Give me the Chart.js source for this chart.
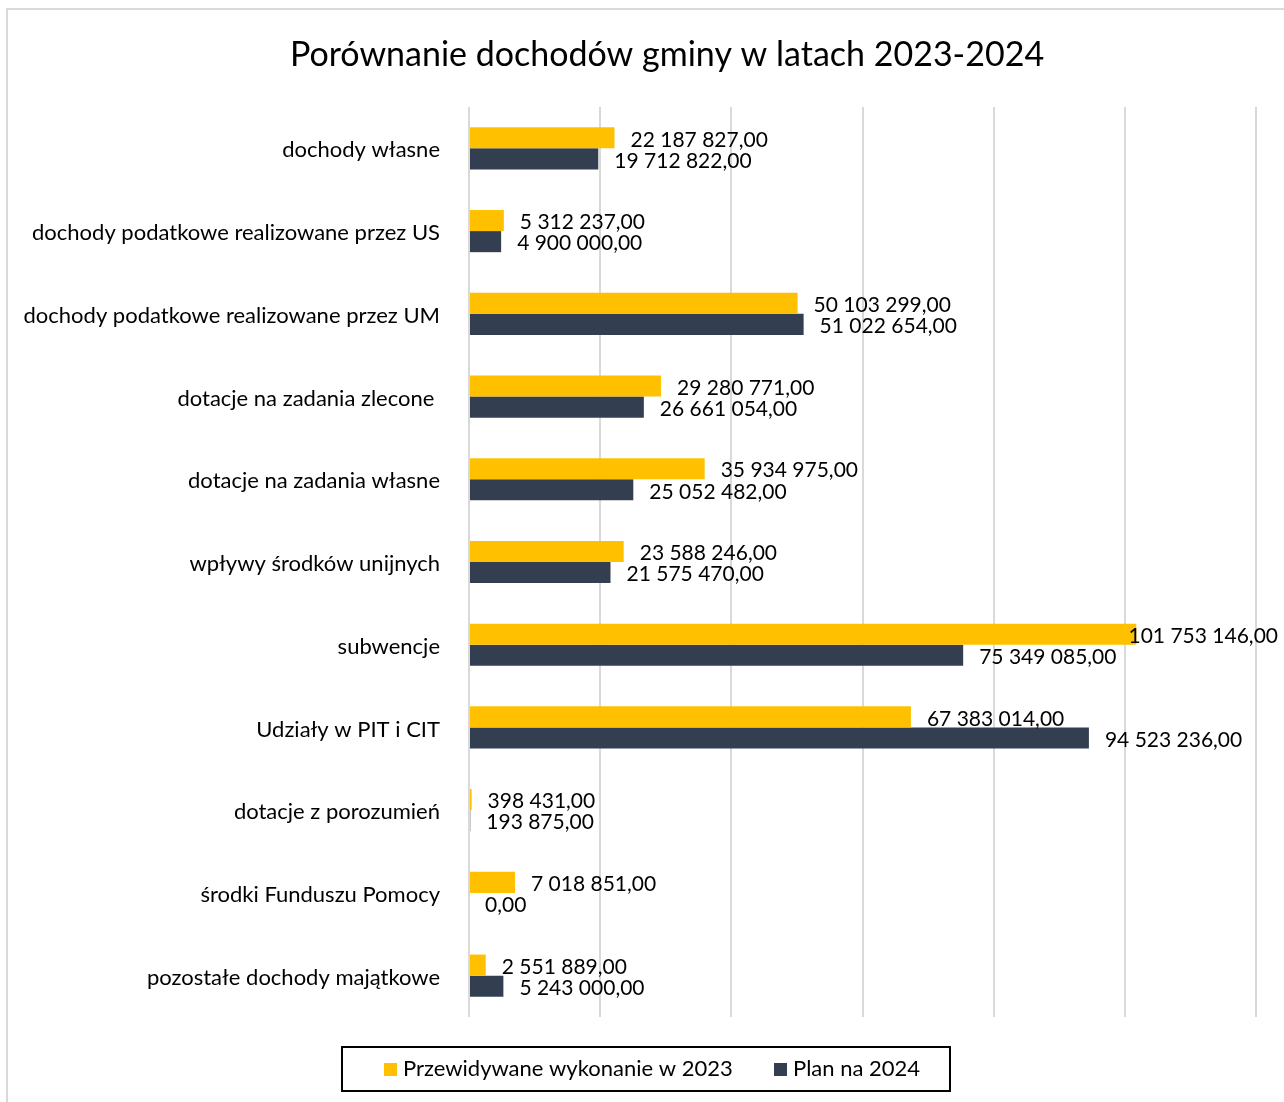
<!DOCTYPE html>
<html>
<head>
<meta charset="utf-8">
<script src="https://cdn.jsdelivr.net/npm/chart.js@4.4.1/dist/chart.umd.min.js"></script>
<style>
  html, body { margin: 0; padding: 0; background: #fff; overflow: hidden; }
  canvas { display: block; }
</style>
</head>
<body>
<canvas id="incomeChart" width="1284" height="1102"></canvas>
<script>
const categories = [
    "dochody własne",
    "dochody podatkowe realizowane przez US",
    "dochody podatkowe realizowane przez UM",
    "dotacje na zadania zlecone ",
    "dotacje na zadania własne",
    "wpływy środków unijnych",
    "subwencje",
    "Udziały w PIT i CIT",
    "dotacje z porozumień",
    "środki Funduszu Pomocy",
    "pozostałe dochody majątkowe"
];
const forecast2023 = [22187827, 5312237, 50103299, 29280771, 35934975, 23588246, 101753146, 67383014, 398431, 7018851, 2551889];
const plan2024 = [19712822, 4900000, 51022654, 26661054, 25052482, 21575470, 75349085, 94523236, 193875, 0, 5243000];
const seriesNames = ["Przewidywane wykonanie w 2023", "Plan na 2024"];
const xTicks = [0, 20000000, 40000000, 60000000, 80000000, 100000000, 120000000];

const FONT = "Lato, 'Open Sans', sans-serif";

function fmt(v) {
    const parts = v.toFixed(2).split(".");
    return parts[0].replace(/\B(?=(\d{3})+(?!\d))/g, " ") + "," + parts[1];
}

// frame around the chart (cut off at right / bottom like the source)
const framePlugin = {
    id: "frame",
    afterLayout(chart) {
        // title in the source is centred on the whole (wider) chart object
        if (chart.titleBlock) chart.titleBlock.left += 78;
    },
    beforeDraw(chart) {
        const c = chart.ctx;
        c.save();
        c.strokeStyle = "#D9D9D9";
        c.lineWidth = 2;
        c.beginPath();
        c.moveTo(7, 1102);
        c.lineTo(7, 9);
        c.lineTo(1284, 9);
        c.stroke();
        c.restore();
    }
};

const valueLabels = {
    id: "valueLabels",
    afterDatasetsDraw(chart) {
        const c = chart.ctx;
        c.save();
        c.font = "21px " + FONT;
        c.fillStyle = "#000";
        c.textBaseline = "middle";
        c.textAlign = "left";
        chart.data.datasets.forEach((ds, i) => {
            chart.getDatasetMeta(i).data.forEach((bar, j) => {
                const txt = fmt(ds.data[j]);
                const w = c.measureText(txt).width;
                let x = bar.x + 16;
                if (x + w > 1278) x = 1278 - w;
                c.fillText(txt, x, bar.y + 2);
            });
        });
        c.restore();
    }
};

const boxLegend = {
    id: "boxLegend",
    afterDraw(chart) {
        const c = chart.ctx;
        c.save();
        c.strokeStyle = "#000";
        c.lineWidth = 2;
        c.strokeRect(342, 1047, 608, 44);
        c.font = "22px " + FONT;
        c.textBaseline = "middle";
        c.textAlign = "left";
        const starts = [384, 774];
        chart.data.datasets.forEach((ds, i) => {
            c.fillStyle = ds.backgroundColor;
            c.fillRect(starts[i], 1063, 13, 13);
            c.fillStyle = "#000";
            c.fillText(ds.label, starts[i] + 19, 1069);
        });
        c.restore();
    }
};

new Chart(document.getElementById("incomeChart"), {
    type: "bar",
    data: {
        labels: categories,
        datasets: [
            { label: seriesNames[0], data: forecast2023, backgroundColor: "#FFC000" },
            { label: seriesNames[1], data: plan2024, backgroundColor: "#333F50" }
        ]
    },
    options: {
        indexAxis: "y",
        responsive: false,
        animation: false,
        datasets: {
            bar: { categoryPercentage: 0.51, barPercentage: 1.0 }
        },
        layout: {
            padding: { left: 0, right: 28, top: 20, bottom: 85 }
        },
        plugins: {
            title: {
                display: true,
                text: "Porównanie dochodów gminy w latach 2023-2024",
                color: "#000",
                font: { family: FONT, size: 34, weight: "normal" },
                padding: { top: 14.6, bottom: 31.6 }
            },
            legend: { display: false },
            tooltip: { enabled: false }
        },
        scales: {
            x: {
                min: 0,
                max: 120000000,
                afterBuildTicks(scale) {
                    scale.ticks = xTicks.map(v => ({ value: v }));
                },
                ticks: { display: false },
                grid: { color: "#D9D9D9", lineWidth: 2, drawTicks: false },
                border: { display: false }
            },
            y: {
                afterFit(scale) { scale.width = 469; },
                ticks: {
                    color: "#000",
                    padding: 29,
                    labelOffset: 2,
                    font: { family: FONT, size: 22 }
                },
                grid: { display: false, drawTicks: false },
                border: { display: false }
            }
        }
    },
    plugins: [framePlugin, valueLabels, boxLegend]
});
</script>
</body>
</html>
